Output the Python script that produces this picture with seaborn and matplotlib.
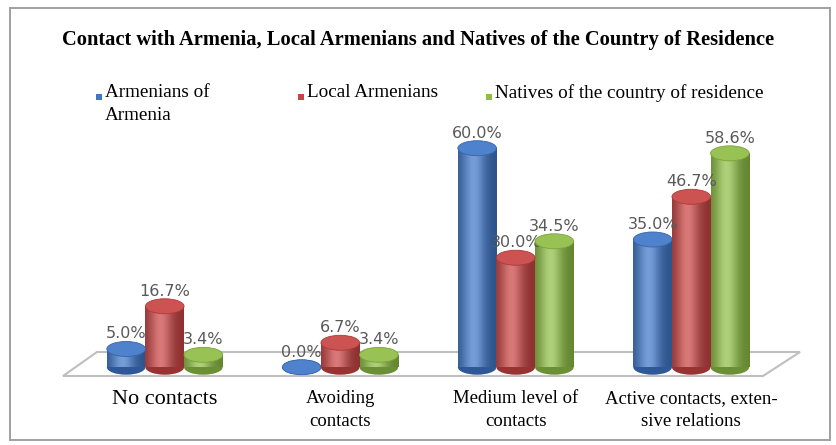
import numpy as np
import pandas as pd
import matplotlib
matplotlib.use("Agg")
import matplotlib.pyplot as plt
import seaborn as sns
from matplotlib.patches import Ellipse, Polygon, Rectangle
from matplotlib.colors import to_rgb

categories = ["No contacts", "Avoiding\ncontacts", "Medium level of\ncontacts",
              "Active contacts, exten-\nsive relations"]
series = ["Armenians of\nArmenia", "Local Armenians", "Natives of the country of residence"]
armenians_of_armenia = [5.0, 0.0, 60.0, 35.0]
local_armenians = [16.7, 6.7, 30.0, 46.7]
natives = [3.4, 3.4, 34.5, 58.6]
colors = ["#3F77C8", "#C94443", "#8FBE45"]

df = pd.DataFrame({
    "category": categories * 3,
    "group": [series[0]] * 4 + [series[1]] * 4 + [series[2]] * 4,
    "value": armenians_of_armenia + local_armenians + natives,
})

sns.set_theme(style="white")
plt.rcParams["font.family"] = ["Liberation Serif", "DejaVu Serif"]

W, H = 837, 445
fig = plt.figure(figsize=(W / 100, H / 100), dpi=100)
fig.patch.set_facecolor("white")

# outer frame of the chart
fig.patches.append(Rectangle((10 / W, 5 / H), 820 / W, 432 / H, transform=fig.transFigure,
                             fill=False, edgecolor="#a0a0a0", linewidth=1.4))

ax = fig.add_axes([77 / W, (H - 380) / H, (779 - 77) / W, (380 - 115) / H])
ax.set_facecolor("none")

sns.barplot(data=df, x="category", y="value", hue="group", palette=colors,
            width=0.66, dodge=True, ax=ax, legend=False, saturation=1)

ax.set_xlim(-0.5, 3.5)
ax.set_ylim(-3.5, 69.1)
ax.set_yticks([])
for s in ax.spines.values():
    s.set_visible(False)
ax.set_xlabel("")
ax.set_ylabel("")

# data units per pixel
px_x = 4.0 / (779 - 77)
px_y = (69.1 + 3.5) / (380 - 115)


def mix(c, other, t):
    c = np.array(to_rgb(c))
    o = np.array(to_rgb(other))
    return tuple(c * (1 - t) + o * t)


# floor of the plot area
floor = Polygon([(-0.5 + (63 - 77) * px_x, -3.5 + 4 * px_y),
                 (-0.5 + (97 - 77) * px_x, -3.5 + 28 * px_y),
                 (-0.5 + (800 - 77) * px_x, -3.5 + 28 * px_y),
                 (-0.5 + (763 - 77) * px_x, -3.5 + 4 * px_y)],
                closed=True, facecolor="white", edgecolor="#bfbfbf", linewidth=1.5,
                zorder=0, clip_on=False)
ax.add_patch(floor)

ell_h = 15 * px_y
bars = [p for p in ax.patches if isinstance(p, Rectangle)]
n_cat = len(categories)
for i, bar in enumerate(bars):
    si = i // n_cat
    base = colors[si]
    x0 = bar.get_x()
    w = bar.get_width()
    h = bar.get_height()
    bar.set_facecolor("none")
    bar.set_edgecolor("none")
    # rounded bottom of the cylinder
    ax.add_patch(Ellipse((x0 + w / 2, 0), w, ell_h, facecolor=mix(base, "black", 0.25),
                         edgecolor="none", zorder=2))
    # horizontal shading across the cylinder body
    t = np.linspace(0, 1, 64)
    shade = np.exp(-((t - 0.4) / 0.3) ** 2)
    dark = np.array(mix(base, "black", 0.3))
    light = np.array(mix(base, "white", 0.28))
    img = dark[None, :] * (1 - shade[:, None]) + light[None, :] * shade[:, None]
    if h > 0:
        im = ax.imshow(img[None, :, :], extent=[x0, x0 + w, 0, h], aspect="auto",
                       zorder=3, interpolation="bilinear")
        im.set_clip_path(bar)
    # top cap of the cylinder
    ax.add_patch(Ellipse((x0 + w / 2, h), w, ell_h, facecolor=mix(base, "white", 0.08),
                         edgecolor=mix(base, "black", 0.15), linewidth=0.6, zorder=4))
    ax.annotate(f"{h:.1f}%", (x0 + w / 2, h + ell_h / 2), xytext=(0, 0),
                textcoords="offset points", ha="center", va="bottom",
                fontsize=11.5, color="#595959", family=["DejaVu Sans"], zorder=3.5)

ax.set_xticks(range(n_cat))
ax.set_xticklabels(categories, fontsize=13.5, color="black", linespacing=1.45)
ax.get_xticklabels()[0].set_fontsize(16)
ax.tick_params(axis="x", length=0, pad=7)

# title
fig.text(418 / W, 1 - 40 / H,
         "Contact with Armenia, Local Armenians and Natives of the Country of Residence",
         ha="center", va="center", fontsize=14.8, fontweight="bold", color="black")

# legend
leg_items = [(96, series[0]), (298, series[1]), (486, series[2])]
for (lx, label), c in zip(leg_items, colors):
    fig.patches.append(Rectangle((lx / W, 1 - 100 / H), 6 / W, 6 / H,
                                 transform=fig.transFigure, facecolor=c, edgecolor="none"))
    fig.text((lx + 9) / W, 1 - 84 / H, label, ha="left", va="top", fontsize=13.8,
             color="black", linespacing=1.5)

fig.savefig("out.png", dpi=100, facecolor="white")
